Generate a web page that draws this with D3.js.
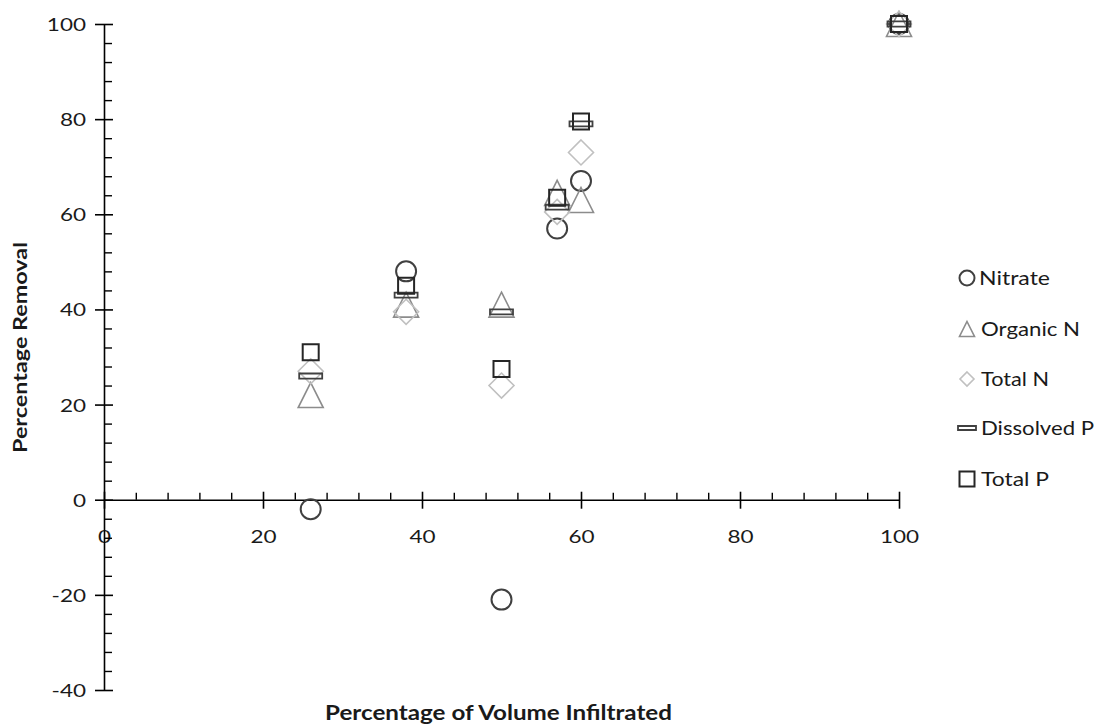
<!DOCTYPE html>
<html>
<head>
<meta charset="utf-8">
<script src="https://cdn.jsdelivr.net/npm/d3@7"></script>
<style>
  html, body { margin: 0; padding: 0; background: #fff; }
  svg { display: block; }
  text { font-family: Lato, "Open Sans", sans-serif; fill: #1a1a1a; }
</style>
</head>
<body>
<svg id="chart" width="1098" height="725"></svg>
<script>
// Percentage of volume infiltrated (x) for each monitored event
const volumeInfiltrated = [26, 38, 50, 57, 60, 100];

// Percentage removal per constituent, same order as volumeInfiltrated
const nitrate    = [-2, 48, -21, 57, 67, 100];
const organicN   = [22, 41, 41, 64.5, 63, 100];
const totalN     = [27, 39.5, 24, 60.5, 73, 100];
const dissolvedP = [26, 43, 39.5, 61.5, 79, 100];
const totalP     = [31, 45, 27.5, 63.5, 79.5, 100];

const seriesNames = ["Nitrate", "Organic N", "Total N", "Dissolved P", "Total P"];
const xTicks = [0, 20, 40, 60, 80, 100];
const yTicks = [-40, -20, 0, 20, 40, 60, 80, 100];

const svg = d3.select("#chart");
const x = d3.scaleLinear().domain([0, 100]).range([104, 899]);
const y = d3.scaleLinear().domain([-40, 100]).range([690, 24]);

// plain hyphen-minus for negative tick labels
const tickFmt = d => String(d);

// marker shapes, centred on the origin
const shapes = {
  circle:   s => `M${s},0A${s},${s} 0 1,1 ${-s},0A${s},${s} 0 1,1 ${s},0Z`,
  triangle: s => `M0,${-s}L${s},${s}L${-s},${s}Z`,
  diamond:  s => `M0,${-s}L${s},0L0,${s}L${-s},0Z`,
  square:   s => `M${-s},${-s}H${s}V${s}H${-s}Z`,
  dash:     s => `M${-s},${-s * 0.22}H${s}V${s * 0.22}H${-s}Z`
};

const series = [
  { name: seriesNames[0], values: nitrate,    shape: "circle",   size: 10,   legendSize: 7.5, color: "#404040", width: 2 },
  { name: seriesNames[1], values: organicN,   shape: "triangle", size: 12.5, legendSize: 7.5, color: "#8c8c8c", width: 1.6 },
  { name: seriesNames[2], values: totalN,     shape: "diamond",  size: 12.5, legendSize: 7,   color: "#c0c0c0", width: 1.6 },
  { name: seriesNames[3], values: dissolvedP, shape: "dash",     size: 11.5, legendSize: 9,   color: "#404040", width: 1.8 },
  { name: seriesNames[4], values: totalP,     shape: "square",   size: 8,    legendSize: 7.5, color: "#262626", width: 2 }
];

// ---- x axis (drawn at y = 0) ----
const xMinor = d3.range(0, 101, 4).filter(v => v % 20 !== 0);
svg.append("g")
  .attr("transform", `translate(0,${y(0)})`)
  .call(d3.axisBottom(x).tickValues(xMinor).tickSize(-7).tickSizeOuter(0).tickFormat(""))
  .call(g => g.select(".domain").remove())
  .call(g => g.selectAll("line").attr("stroke", "#000").attr("stroke-width", 1.4));

const xAxis = svg.append("g")
  .attr("transform", `translate(0,${y(0)})`)
  .call(d3.axisBottom(x).tickValues(xTicks).tickSize(9).tickSizeOuter(0).tickFormat(tickFmt));
xAxis.select(".domain").attr("stroke", "#000").attr("stroke-width", 1.6);
xAxis.selectAll(".tick line").attr("y1", -8).attr("stroke", "#000").attr("stroke-width", 1.6);
xAxis.selectAll(".tick text")
  .attr("y", 0).attr("dy", "0.36em")
  .attr("transform", "translate(0,37) scale(1.25,1)")
  .attr("font-size", 18).attr("font-family", "Lato, sans-serif").attr("fill", "#1a1a1a");

// ---- y axis ----
const yMinor = d3.range(-40, 101, 4).filter(v => v % 20 !== 0);
svg.append("g")
  .attr("transform", `translate(${x(0)},0)`)
  .call(d3.axisLeft(y).tickValues(yMinor).tickSize(-8).tickSizeOuter(0).tickFormat(""))
  .call(g => g.select(".domain").remove())
  .call(g => g.selectAll("line").attr("stroke", "#000").attr("stroke-width", 1.4));

const yAxis = svg.append("g")
  .attr("transform", `translate(${x(0)},0)`)
  .call(d3.axisLeft(y).tickValues(yTicks).tickSize(9).tickSizeOuter(0).tickFormat(tickFmt));
yAxis.select(".domain").attr("stroke", "#000").attr("stroke-width", 1.6);
yAxis.selectAll(".tick line").attr("x1", 9).attr("stroke", "#000").attr("stroke-width", 1.6);
yAxis.selectAll(".tick text")
  .attr("x", 0).attr("dy", "0.36em")
  .attr("transform", "translate(-18,0) scale(1.25,1)")
  .attr("font-size", 18).attr("font-family", "Lato, sans-serif").attr("fill", "#1a1a1a");

// ---- axis titles ----
svg.append("text")
  .attr("x", 325).attr("y", 720)
  .attr("font-size", 20).attr("font-weight", 700)
  .attr("textLength", 347).attr("lengthAdjust", "spacingAndGlyphs")
  .text("Percentage of Volume Infiltrated");

svg.append("text")
  .attr("transform", "translate(27,453) rotate(-90)")
  .attr("font-size", 19).attr("font-weight", 700)
  .attr("textLength", 211).attr("lengthAdjust", "spacingAndGlyphs")
  .text("Percentage Removal");

// ---- data markers ----
const marks = svg.append("g");
series.forEach(s => {
  marks.append("g").selectAll("path")
    .data(s.values.map((v, i) => ({ x: volumeInfiltrated[i], y: v })))
    .join("path")
    .attr("transform", d => `translate(${x(d.x)},${y(d.y)})`)
    .attr("d", shapes[s.shape](s.size))
    .attr("fill", "none")
    .attr("stroke", s.color)
    .attr("stroke-width", s.width);
});

// ---- legend ----
const legendRows = [278, 329, 379, 428, 479];
const legendWidths = [71, 99, 68, 113, 68];
const legend = svg.append("g");
series.forEach((s, i) => {
  const row = legend.append("g").attr("transform", `translate(0,${legendRows[i]})`);
  row.append("path")
    .attr("transform", "translate(967,0)")
    .attr("d", shapes[s.shape](s.legendSize))
    .attr("fill", "none")
    .attr("stroke", s.color)
    .attr("stroke-width", s.width);
  row.append("text")
    .attr("x", i === 0 ? 979 : 981).attr("dy", "0.36em")
    .attr("font-size", 20)
    .attr("textLength", legendWidths[i]).attr("lengthAdjust", "spacingAndGlyphs")
    .text(s.name);
});
</script>
</body>
</html>
